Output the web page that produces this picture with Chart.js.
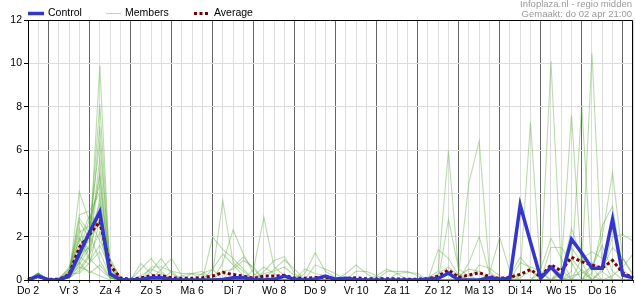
<!DOCTYPE html>
<html>
<head>
<meta charset="utf-8">
<script src="https://cdn.jsdelivr.net/npm/chart.js@4.4.1/dist/chart.umd.min.js"></script>
<style>
html,body{margin:0;padding:0;background:#fff;}
#wrap{width:635px;height:300px;}
</style>
</head>
<body>
<div id="wrap"><canvas id="c" width="635" height="300"></canvas></div>
<script>
// Day labels (one per 4 steps of 6 hours)
const dayLabels = ['Do 2','Vr 3','Za 4','Zo 5','Ma 6','Di 7','Wo 8','Do 9','Vr 10','Za 11','Zo 12','Ma 13','Di 14','Wo 15','Do 16'];
const yTicks = [0, 2, 4, 6, 8, 10, 12];
const headerLines = ['Infoplaza.nl - regio midden', 'Gemaakt: do 02 apr 21:00'];

const control = [
  0,0.18,0,0,0.18,1.2,2.2,3.15,0.28,0.02,
  0,0.03,0.1,0.1,0.02,0,0,0,0,0.02,
  0.1,0.1,0.03,0,0.03,0.18,0.03,0,0.05,0.18,
  0.03,0.08,0.02,0,0,0,0,0,0,0.03,
  0.08,0.31,0,0,0,0.1,0.03,0.08,3.46,1.75,
  0.08,0.59,0.1,1.88,1.25,0.54,0.54,2.8,0.23,0.1
];
const average = [
  0.05,0.15,0.03,0.03,0.25,1.5,2.1,2.7,0.69,0.1,
  0.03,0.1,0.2,0.2,0.1,0.08,0.08,0.1,0.18,0.35,
  0.25,0.18,0.08,0.18,0.18,0.22,0.08,0.08,0.12,0.12,
  0.06,0.08,0.1,0.06,0.05,0.06,0.05,0.04,0.04,0.06,
  0.18,0.46,0.12,0.23,0.34,0.15,0.08,0.12,0.26,0.48,
  0.15,0.7,0.42,1.05,0.85,0.68,0.55,0.9,0.33,0.1
];

const m01 = [0,0.25,0,0,0.1,1.2,1.5,9.9,0.3,0, 0,0,0,0,0,0,0,0,0,0, 0,0,0,0,0,0,0,0.3,1.26,0.4, 0.1,0,0,0,0,0,0,0,0,0, 0,0,0,0,0,0,0,0,0.1,0.4, 0.2,0.6,0.1,0,0,0,0,0,0,0];
const m02 = [0,0.3,0,0,0.2,0.8,2.0,8.1,0.5,0, 0,0.5,1.0,0.4,0,0,0,0,0,0, 0,0,0,0,0,0,0,0,0,0, 0,0,0,0,0,0,0,0,0,0.1, 0.4,5.97,0.3,0,0,0,0,0,0,0, 0,0,0,0.2,0.3,0.6,2.0,4.95,1.0,0.2];
const m03 = [0,0.2,0,0,0.3,1.5,1.8,7.1,0.2,0, 0,0,0,0,0,0,0,0,1.97,1.4, 1.0,0.5,0,0,0,0,0,0,0,0, 0,0,0,0,0,0,0,0,0,0, 0,0.4,0.2,0.5,0.4,0,0,0,0,0, 0,0,0,0,0,0.3,2.5,3.4,0.5,0];
const m04 = [0,0.25,0,0.1,0.5,2.2,2.5,6.3,0.8,0, 0,0,0,0,0,0,0,0,0,0, 0,0,0,0,0,0,0,0,0.7,0.5, 0.3,0,0,0,0,0,0,0,0,0, 0,0,0,0,0,0,0,0.2,1.05,0.5, 0,0,0,0,0,0,0,0,0,0];
const m05 = [0,0.2,0,0,0.2,0.9,1.6,5.6,0.4,0, 0,0,0.4,1.0,0.3,0,0,0,0,0, 0,0,0,0,0,0,0,0,0,0, 0,0,0,0,0,0,0,0,0,0, 0,2.8,0.5,0.2,0,0,0,0,0,0, 0,0,0,0,0,0,0,0.2,0.6,1.2];
const m06 = [0,0.3,0,0,0.1,4.07,2.7,4.4,0.6,0, 0,0,0,0,0,0,0,0,0.3,3.66, 0.8,0.4,0,0,0,0,0,0,0,0, 0,0,0,0,0,0,0,0,0,0, 0,0,0,0,0,0,0,0,0.3,7.28, 0.3,0,0,0,0,0,0,0,0,0];
const m07 = [0,0.2,0,0,0.4,3.0,3.2,4.0,0.2,0, 0,0,0,0,0,0,0.3,0.4,0,0, 0,0,0,0,0,0,0,0,0,0, 0,0.3,0.69,0.3,0,0,0,0,0,0, 0,0,0,0,0,0,0,0,0,0, 0,0,0.6,7.6,0.5,0,0,0,0,0];
const m08 = [0,0.25,0,0,0.3,2.85,2.2,3.5,0.1,0, 0,0,0,0,0,0,0,0,0,0, 0,0,0.5,2.89,0.6,0.2,0,0,0,0, 0,0,0,0,0,0,0,0,0,0, 0,0,0,0,0,0,0,0,0,0, 0,0,0.2,2.38,1.0,0.6,0,0,0,0];
const m09 = [0,0.3,0,0,0.2,2.7,1.9,3.0,0.7,0.1, 0,0.77,0.3,0,0,0,0,0,0,0, 0,0,0,0,0,0,0,0,0,0, 0,0,0,0,0,0,0,0,0,0, 1.4,1.0,0.2,0,0,0,0,0,0,0, 0,0,0,0,0,0,0.4,2.0,2.1,1.8];
const m10 = [0,0.2,0,0,0.6,1.8,3.0,2.5,0.3,0, 0,0,0,0,0,0,0,0,0,0.8, 2.31,1.2,0.3,0,0,0,0,0,0,0, 0,0,0,0,0,0,0,0,0,0, 0,0,0,0,0,0,0,0,0.8,0.6, 0.4,0,0,0,0,0,0,0,0,0];
const m11 = [0,0.25,0,0,0.1,0.5,1.2,2.2,0.1,0, 0,0,0,0,0,0.2,0.3,0.25,0,0, 0,0,0,0,0,0,0,0,0,0, 0,0,0.4,0.4,0.2,0,0,0,0,0, 0,0,0,0,0,0,0,0,0,0, 0,0,0.3,1.5,0.8,0,0,0,0,0];
const m12 = [0,0.3,0,0,0.2,1.4,2.8,1.8,0.9,0.1, 0,0,0,0,0,0,0,0,0,0, 0,0,0,0.4,0.9,1.08,0.3,0,0,0, 0,0,0,0,0,0,0,0,0,0, 0,0,0.3,4.5,6.41,0.4,0,0,0,0, 0,0,0,0,0,0.6,1.6,0.4,0,0];
const m13 = [0,0.2,0,0,0.3,0.3,0.8,1.3,0.2,0, 0,0,0,0.5,1.0,0.2,0,0,0,0, 0,0,0,0,0,0,0,0,0,0, 0,0,0,0,0,0,0,0,0,0, 0,0,0,0.8,2.0,0.3,0,0,0,0, 0,0,0,0,0,0,0.5,1.0,0.3,0];
const m14 = [0,0.25,0,0,0.1,1.0,2.1,0.9,0.1,0, 0,0,0,0,0,0,0,0,0,0, 0.6,1.07,0.5,0,0,0,0,0,0,0, 0,0,0,0,0,0,0,0,0,0, 0,0,0,0,0,0,0,0,0,0, 0.3,10.1,0.5,0,0,0,0,0,0,0];
const m15 = [0,0.3,0,0,0.4,2.4,1.0,0.5,0.1,0, 0,0,0,0,0,0,0,0,0,0, 0,0,0,0,0.5,0.92,0.5,0,0,0, 0,0,0,0,0,0,0,0,0,0, 0,0,0,0,0,0,0,0,0,0, 0,0,0,0.4,8.07,0.2,0,0,0,0];
const m16 = [0,0.2,0,0,0.2,0.6,0.4,0.2,0,0, 0,0,0.6,0.6,0.4,0,0,0,0,0, 0,0,0,0,0,0,0,0,0,0, 0,0,0,0,0.2,0.5,0.3,0,0,0, 0,0,0,0,0,0,0,0,0,0, 0,0,0.4,1.0,0.4,0,0,0,0,0];
const m17 = [0,0.25,0,0,0.3,1.9,1.4,3.2,0.4,0, 0,0,0,0,0,0,0,0,0.5,1.2, 0.7,0.2,0,0,0,0,0,0,0,0, 0,0,0,0,0,0,0,0,0,0, 0,0,0,0,0.7,0.54,0.2,0,0,0, 0,0,0,0,0,0,0,0,0,0];
const m18 = [0,0.3,0,0,0.2,1.1,0.7,2.8,0.2,0, 0,0,0,0,0,0,0,0.3,0.5,0, 0,0,0,0,0,0,0,0,0,0, 0,0,0,0,0,0,0,0,0,0, 0,0,0,0,0,0,0,0,0,0, 0.5,1.92,1.0,0,0,0,0,0,0,0];
const m19 = [0,0.2,0,0,0.1,0.7,1.5,5.0,0.3,0, 0,0,0,0,0,0,0,0,0,0, 0,0,0,0.3,0.4,0.6,0.2,0,0,0, 0,0,0,0,0,0.4,0.4,0.4,0.2,0, 0,0,0,0,0,0,0,0,0,0, 0,0,0,0,0.5,10.46,0.4,0,0,0];
const m20 = [0,0.25,0,0,0.3,2.0,0.9,1.6,0.6,0, 0,0.2,0.5,0.3,0,0,0,0,0,0, 0,0,0,0,0,0,0,0,0,0, 0,0,0,0,0,0,0.3,0.35,0.3,0, 0,0,0,0,0,0,0,0,0,0, 0,0,0,0,1.0,1.3,1.0,0,0,0];
const m21 = [0,0.3,0,0,0.2,1.3,2.4,4.8,0.2,0, 0,0,0,0,0,0,0,0,0,0.4, 0.5,0.9,0.6,0,0,0,0,0,0,0, 0,0,0,0,0,0,0,0,0,0, 0,0,0,0,0,0,0,0,0,0, 0,0,0,0,0,0.8,0.5,1.5,1.0,0.3];
const m22 = [0,0.2,0,0,0.1,0.4,1.1,3.8,0.1,0, 0,0,0,0,0.4,0.3,0.3,0,0,0, 0,0,0,0,0,0,0,0,0,0, 0,0,0,0,0,0,0,0,0,0, 0,0,0,0,0,0.3,1.97,0.4,0,0, 0,0,0,0,0,0,0,0,0,0];
const m23 = [0,0.25,0,0,0.5,1.6,2.0,2.6,1.0,0.1, 0,0,0,0,0,0,0,0,0,0, 0,0,0.2,0.6,0.3,0,0,0,0,0, 0,0,0,0,0,0,0,0,0,0, 0,0,0,0,0,0,0,0,0,0, 0,1.5,1.5,0.8,0,0,0,0,0,0];
const m24 = [0,0.3,0,0,0.2,0.8,0.3,0.7,0.1,0, 0,0,0,0,0,0,0,0,0,0, 0,0,0,0,0,0,0,0.5,0.3,0.2, 0,0,0,0,0,0,0,0,0,0, 0.3,0.6,0.2,0,0,0,0,0,0,0, 0,0,0,0,0,0,0,0,0,0];
const members = [m01,m02,m03,m04,m05,m06,m07,m08,m09,m10,m11,m12,m13,m14,m15,m16,m17,m18,m19,m20,m21,m22,m23,m24];

// category labels: a day label every 4th 6-hour step, blank otherwise
const labels = control.map((_, i) => (i % 4 === 0 && dayLabels[i / 4]) ? dayLabels[i / 4] : '');

const FONT = 'Liberation Sans, Arial, sans-serif';
const COL_CONTROL = '#3434cf';
const COL_AVG = '#7a0000';
const COL_MEMBER = 'rgba(90,172,60,0.42)';
const COL_MEMBER_LEG = '#b9dcaa';

const datasets = [
  { label: 'Control', data: control, borderColor: COL_CONTROL, borderWidth: 3.5, order: 0, legendColor: COL_CONTROL },
  { label: 'Average', data: average, borderColor: COL_AVG, borderWidth: 3, borderDash: [3, 2.5], order: 1, legendColor: COL_AVG }
];
members.forEach((m, k) => {
  datasets.push({ label: k === 0 ? 'Members' : '', data: m, borderColor: COL_MEMBER, borderWidth: 1.1, order: 2, legendColor: COL_MEMBER_LEG });
});

const decor = {
  id: 'decor',
  afterDraw(chart) {
    const ctx = chart.ctx;
    const a = chart.chartArea;
    ctx.save();
    // frame
    ctx.strokeStyle = '#000';
    ctx.lineWidth = 1;
    ctx.setLineDash([]);
    ctx.beginPath();
    ctx.moveTo(Math.round(a.left) + 0.5, Math.round(a.bottom) + 0.5);
    ctx.lineTo(Math.round(a.left) + 0.5, Math.round(a.top) + 0.5);
    ctx.lineTo(Math.round(a.right) - 0.5, Math.round(a.top) + 0.5);
    ctx.lineTo(Math.round(a.right) - 0.5, Math.round(a.bottom) + 0.5);
    ctx.stroke();

    // legend
    const items = [
      { ds: chart.data.datasets.find(d => d.label === 'Control'), x0: 28, x1: 44, tx: 48 },
      { ds: chart.data.datasets.find(d => d.label === 'Members'), x0: 106, x1: 121, tx: 125 },
      { ds: chart.data.datasets.find(d => d.label === 'Average'), x0: 194, x1: 208, tx: 214 }
    ];
    const ly = 13.5;
    ctx.font = '10.5px ' + FONT;
    ctx.textBaseline = 'middle';
    ctx.textAlign = 'left';
    items.forEach(it => {
      ctx.strokeStyle = it.ds.legendColor;
      ctx.lineWidth = it.ds.borderWidth;
      ctx.setLineDash(it.ds.borderDash || []);
      ctx.beginPath();
      ctx.moveTo(it.x0, ly);
      ctx.lineTo(it.x1, ly);
      ctx.stroke();
      ctx.fillStyle = '#000';
      ctx.fillText(it.ds.label, it.tx, ly - 0.5);
    });

    // header text
    ctx.setLineDash([]);
    ctx.fillStyle = '#9a9a9a';
    ctx.font = '9.5px ' + FONT;
    ctx.textAlign = 'right';
    ctx.fillText(headerLines[0], 632, 4.5);
    ctx.fillText(headerLines[1], 632, 14);
    ctx.restore();
  }
};

new Chart(document.getElementById('c'), {
  type: 'line',
  data: { labels: labels, datasets: datasets },
  options: {
    responsive: false,
    animation: false,
    devicePixelRatio: 1,
    layout: { padding: { top: 20, right: 1, left: 0, bottom: 0 } },
    plugins: { legend: { display: false }, tooltip: { enabled: false }, title: { display: false } },
    elements: { point: { radius: 0 }, line: { tension: 0, borderCapStyle: 'butt', borderJoinStyle: 'miter' } },
    scales: {
      x: {
        type: 'category',
        offset: false,
        grid: {
          color: c => (c.index % 4 === 2 ? '#666' : '#dcdcdc'),
          tickColor: '#555',
          tickLength: 3,
          lineWidth: 1
        },
        border: { color: '#000', width: 1 },
        ticks: { autoSkip: false, maxRotation: 0, minRotation: 0, padding: 2, color: '#000', font: { family: FONT, size: 10.5 } },
        afterFit: s => { s.height = 20; }
      },
      y: {
        min: yTicks[0],
        max: yTicks[yTicks.length - 1],
        afterBuildTicks: s => { s.ticks = yTicks.map(v => ({ value: v })); },
        grid: { color: '#dcdcdc', tickColor: '#000', tickLength: 4 },
        border: { color: '#000', width: 1 },
        ticks: { padding: 2, color: '#000', font: { family: FONT, size: 10.5 } },
        afterFit: s => { s.width = 28; }
      }
    }
  },
  plugins: [decor]
});
</script>
</body>
</html>
